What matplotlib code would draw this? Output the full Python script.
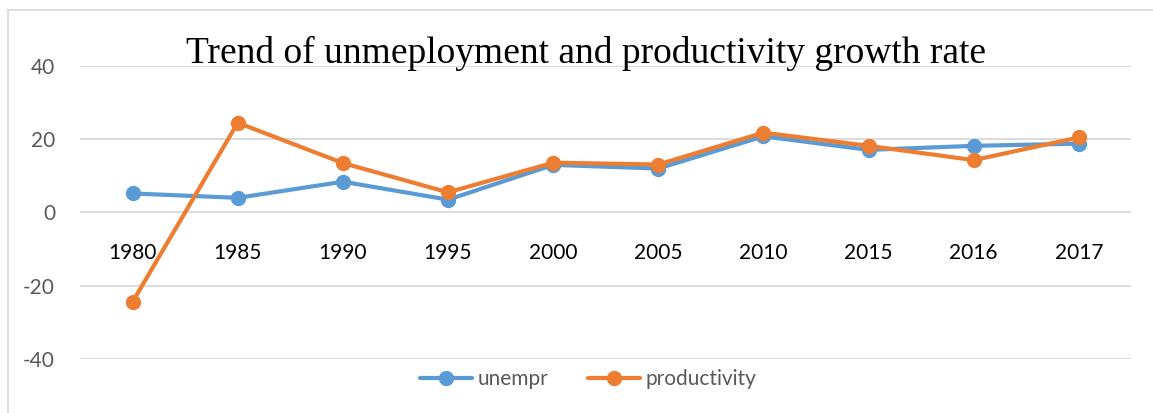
import matplotlib
matplotlib.use("Agg")
import matplotlib.pyplot as plt
from matplotlib.lines import Line2D

# Values
years = ["1980", "1985", "1990", "1995", "2000", "2005", "2010", "2015", "2016", "2017"]
unempr = [5.2, 4.0, 8.4, 3.5, 13.0, 12.0, 20.8, 17.1, 18.2, 18.8]
productivity = [-24.4, 24.5, 13.5, 5.5, 13.6, 13.1, 21.8, 18.2, 14.3, 20.5]
y_ticks = [-40, -20, 0, 20, 40]

blue = "#5B9BD5"
orange = "#ED7D31"
grid_gray = "#D9D9D9"

plt.rcParams["axes.unicode_minus"] = False

fig = plt.figure(figsize=(11.53, 4.13), dpi=100)
ax = fig.add_axes([0.0694, 0.1308, 0.9119, 0.7094])

x = list(range(len(years)))
ax.plot(x, unempr, color=blue, lw=3.0, marker="o", ms=10, label="unempr",
        solid_capstyle="round", zorder=3)
ax.plot(x, productivity, color=orange, lw=3.0, marker="o", ms=10, label="productivity",
        solid_capstyle="round", zorder=4)

ax.set_xlim(-0.5, len(years) - 0.5)
ax.set_ylim(-40, 40)
ax.set_yticks(y_ticks)
ax.set_xticks(x)
ax.set_xticklabels(years)
ax.grid(axis="y", color=grid_gray, lw=1.3)
ax.set_axisbelow(True)

for side in ["top", "right", "left"]:
    ax.spines[side].set_visible(False)
# category labels sit next to the zero line
ax.spines["bottom"].set_position(("data", 0))
ax.spines["bottom"].set_visible(False)

ax.tick_params(axis="x", length=0, pad=22, labelsize=15, labelcolor="#000000")
ax.tick_params(axis="y", length=0, pad=18, labelsize=15, labelcolor="#595959")
for lab in ax.get_xticklabels() + ax.get_yticklabels():
    lab.set_family("Lato")

fig.text(0.508, 0.848, "Trend of unmeployment and productivity growth rate",
         family="Liberation Serif", fontsize=27, ha="center", va="baseline", color="black")

leg = fig.legend(loc="center", bbox_to_anchor=(0.51, 0.082), ncol=2, frameon=False,
                 handlelength=2.5, columnspacing=1.9, handletextpad=0.25,
                 prop={"family": "Lato", "size": 15})
for t in leg.get_texts():
    t.set_color("#595959")

# chart area border (top and left edges visible in the crop)
fig.add_artist(Line2D([8 / 1153, 1.0], [1 - 10 / 413, 1 - 10 / 413],
                      transform=fig.transFigure, color=grid_gray, lw=1.2))
fig.add_artist(Line2D([8 / 1153, 8 / 1153], [0.0, 1 - 10 / 413],
                      transform=fig.transFigure, color=grid_gray, lw=1.2))

fig.savefig("out.png", dpi=100)
